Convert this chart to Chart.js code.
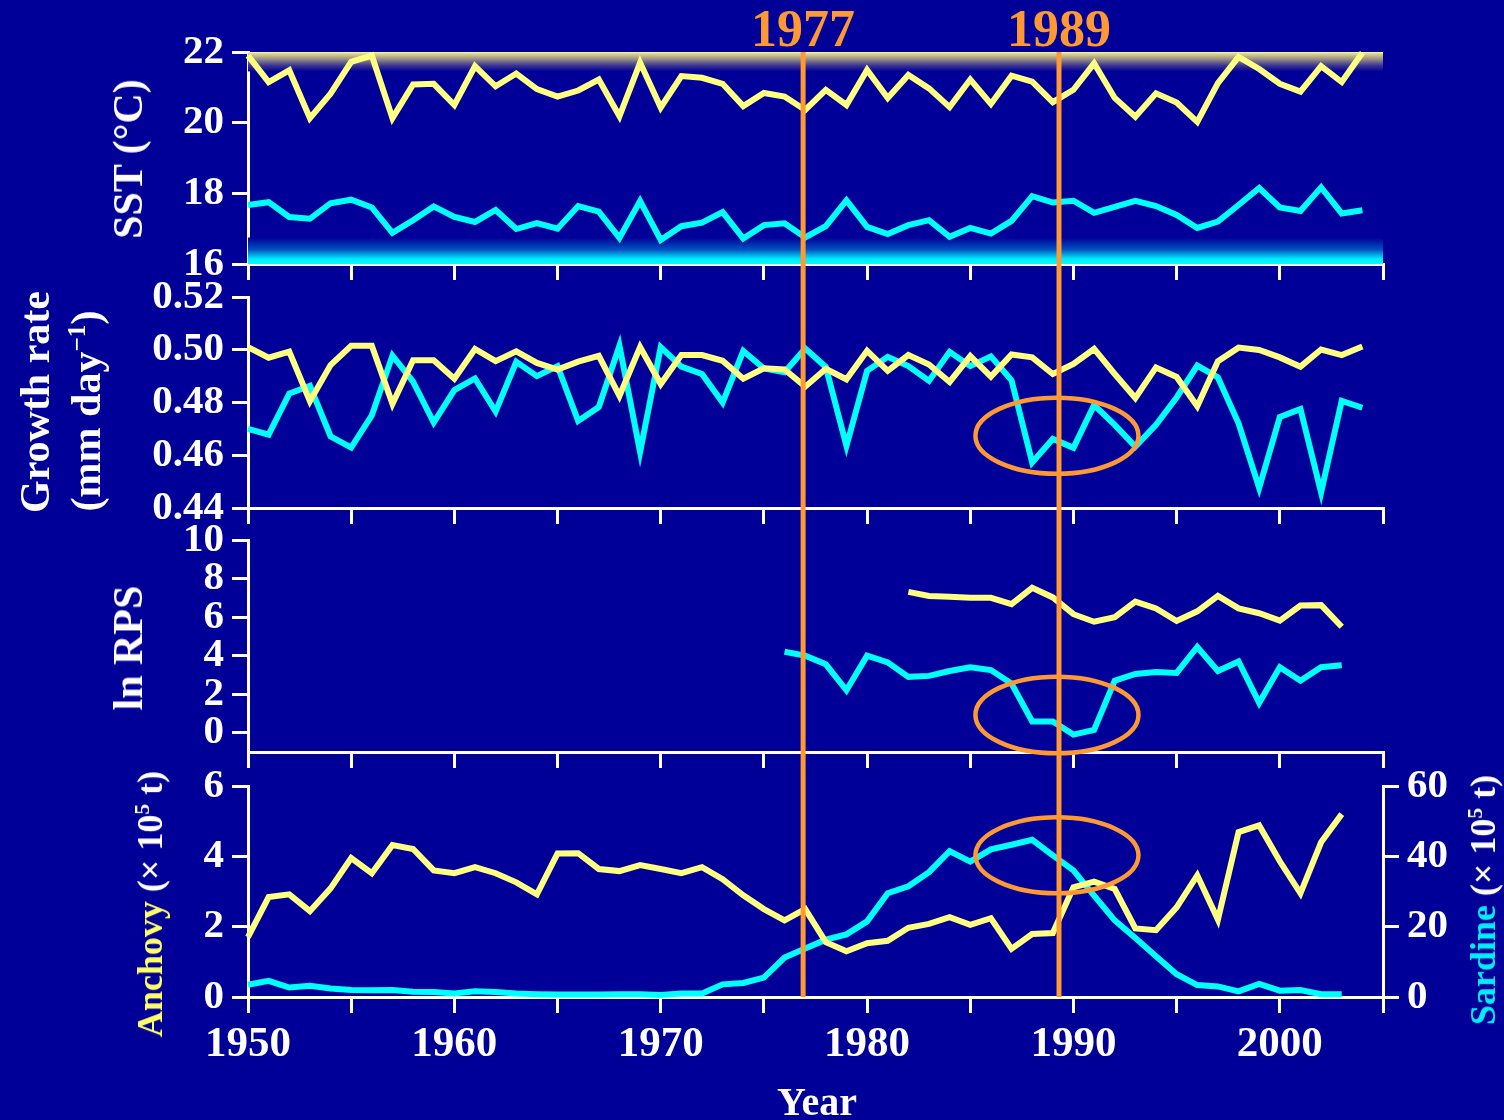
<!DOCTYPE html>
<html><head><meta charset="utf-8">
<script src="https://cdn.jsdelivr.net/npm/chart.js@4"></script>
<style>
html,body{margin:0;padding:0;background:#000099;width:1504px;height:1120px;overflow:hidden;}
#wrap{position:relative;width:1504px;height:1120px;}
canvas{position:absolute;left:0;top:0;}
.t{position:absolute;font-family:"Liberation Serif","Times New Roman",serif;font-weight:bold;color:#fff;white-space:nowrap;line-height:1;}
.rot{transform:translate(-50%,-50%) rotate(-90deg);}
.ctr{transform:translate(-50%,-50%);}
sup{font-size:60%;vertical-align:0.6em;line-height:0;}
</style></head>
<body><div id="wrap">
<canvas id="c1" width="1504" height="1120"></canvas>
<canvas id="c2" width="1504" height="1120"></canvas>
<canvas id="c3" width="1504" height="1120"></canvas>
<canvas id="c4" width="1504" height="1120"></canvas>
<div class="t rot" style="left:128px;top:159px;font-size:42px">SST (°C)</div>
<div class="t rot" style="left:35px;top:402px;font-size:42px">Growth rate</div>
<div class="t rot" style="left:86px;top:411px;font-size:42px">(mm day<sup>−1</sup>)</div>
<div class="t rot" style="left:128px;top:648px;font-size:42px">ln RPS</div>
<div class="t rot" style="left:150px;top:904px;font-size:36px"><span style="color:#ffff66">Anchovy</span> (× 10<sup>5</sup> t)</div>
<div class="t rot" style="left:1483px;top:900px;font-size:36px"><span style="color:#00eeff">Sardine</span> (× 10<sup>5</sup> t)</div>
<div class="t ctr" style="left:817px;top:1102px;font-size:40px">Year</div>
<div id="ev0" class="t ctr" style="top:29px;font-size:52px;color:#ff9933"></div>
<div id="ev1" class="t ctr" style="top:29px;font-size:52px;color:#ff9933"></div>
</div>
<script>
// ---------------- DATA ----------------
const years = [1950,1951,1952,1953,1954,1955,1956,1957,1958,1959,
  1960,1961,1962,1963,1964,1965,1966,1967,1968,1969,
  1970,1971,1972,1973,1974,1975,1976,1977,1978,1979,
  1980,1981,1982,1983,1984,1985,1986,1987,1988,1989,
  1990,1991,1992,1993,1994,1995,1996,1997,1998,1999,
  2000,2001,2002,2003,2004];

const sstAnchovy = [21.9,21.15,21.48,20.13,20.82,21.72,21.9,20.13,21.08,21.1,
  20.5,21.6,21.03,21.39,20.95,20.74,20.91,21.22,20.18,21.7,
  20.43,21.32,21.27,21.1,20.47,20.84,20.74,20.36,20.93,20.5,
  21.49,20.7,21.35,20.97,20.44,21.22,20.53,21.33,21.16,20.58,
  20.93,21.68,20.7,20.17,20.83,20.57,20.02,21.12,21.86,21.52,
  21.1,20.88,21.6,21.15,21.98];
const sstSardine = [17.67,17.75,17.33,17.28,17.72,17.82,17.6,16.88,17.24,17.63,
  17.33,17.19,17.53,16.99,17.16,17.0,17.64,17.48,16.74,17.78,
  16.68,17.07,17.17,17.47,16.72,17.1,17.15,16.75,17.07,17.8,
  17.05,16.85,17.1,17.24,16.77,17.02,16.86,17.22,17.92,17.74,
  17.79,17.45,17.62,17.79,17.64,17.39,17.02,17.2,17.67,18.15,
  17.6,17.5,18.17,17.43,17.52];

const growthAnchovy = [0.501,0.497,0.4993,0.4805,0.4942,0.5015,0.5015,0.4795,0.496,0.496,
  0.489,0.5003,0.4957,0.4994,0.495,0.4925,0.4955,0.4977,0.4825,0.501,
  0.487,0.498,0.498,0.4958,0.489,0.493,0.4925,0.486,0.4928,0.4888,
  0.4996,0.492,0.498,0.4944,0.4878,0.4976,0.4898,0.4982,0.4971,0.4908,
  0.4946,0.5003,0.4908,0.4817,0.4933,0.4897,0.4786,0.4956,0.5008,0.4999,
  0.4971,0.4936,0.5001,0.498,0.5012];
const growthSardine = [0.47,0.4678,0.4834,0.4863,0.4672,0.4629,0.4751,0.4978,0.4879,0.4724,
  0.4847,0.4891,0.4766,0.4954,0.49,0.4938,0.473,0.4783,0.5015,0.4612,
  0.501,0.4936,0.4908,0.48,0.4995,0.4929,0.4915,0.5005,0.4935,0.4635,
  0.492,0.4973,0.4938,0.4882,0.4992,0.4938,0.4975,0.4884,0.4573,0.4662,
  0.4628,0.479,0.4715,0.4633,0.4715,0.4819,0.494,0.4895,0.4721,0.4476,
  0.4745,0.4775,0.4459,0.4806,0.478];

const rpsAnchovyYears = [1982,1983,1984,1985,1986,1987,1988,1989,1990,1991,1992,
  1993,1994,1995,1996,1997,1998,1999,2000,2001,2002,2003];
const rpsAnchovy = [7.31,7.1,7.05,7.0,7.0,6.67,7.52,7.02,6.15,5.76,6.0,
  6.8,6.45,5.8,6.3,7.1,6.45,6.2,5.82,6.6,6.62,5.5];
const rpsSardineYears = [1976,1977,1978,1979,1980,1981,1982,1983,1984,1985,1986,1987,1988,1989,
  1990,1991,1992,1993,1994,1995,1996,1997,1998,1999,2000,2001,2002,2003];
const rpsSardine = [4.2,4.0,3.55,2.2,4.0,3.65,2.9,2.95,3.2,3.4,3.25,2.55,0.58,0.58,
  -0.1,0.15,2.7,3.05,3.15,3.1,4.45,3.2,3.7,1.55,3.4,2.7,3.4,3.5];

const catchYears = [1950,1951,1952,1953,1954,1955,1956,1957,1958,1959,
  1960,1961,1962,1963,1964,1965,1966,1967,1968,1969,
  1970,1971,1972,1973,1974,1975,1976,1977,1978,1979,
  1980,1981,1982,1983,1984,1985,1986,1987,1988,1989,
  1990,1991,1992,1993,1994,1995,1996,1997,1998,1999,
  2000,2001,2002,2003];
const catchAnchovy = [1.7,2.84,2.92,2.44,3.09,3.95,3.52,4.32,4.21,3.6,
  3.52,3.69,3.52,3.26,2.92,4.08,4.09,3.64,3.58,3.75,
  3.64,3.52,3.69,3.35,2.89,2.5,2.18,2.5,1.56,1.3,
  1.53,1.6,1.97,2.08,2.27,2.05,2.24,1.37,1.79,1.82,
  3.12,3.28,3.07,1.95,1.9,2.55,3.46,2.2,4.69,4.88,
  3.86,2.95,4.4,5.2];
const catchSardine = [3.5,4.6,2.7,3.2,2.4,2.0,1.9,2.0,1.5,1.4,
  1.0,1.6,1.4,1.0,0.8,0.7,0.7,0.7,0.8,0.8,
  0.6,1.0,1.0,3.6,4.0,5.5,11.2,13.8,16.3,17.8,
  21.5,29.5,31.5,35.5,41.5,38.5,42.0,43.3,44.7,40.3,
  36.0,28.8,21.8,16.8,11.6,6.5,3.4,3.0,1.6,3.7,
  1.8,2.0,0.8,0.8];

const xTickValues = [1950,1955,1960,1965,1970,1975,1980,1985,1990,1995,2000,2005];
const xTickLabels = [1950,1960,1970,1980,1990,2000];
const sstTicks = [16,18,20,22];
const growthTicks = [0.44,0.46,0.48,0.50,0.52];
const rpsTicks = [0,2,4,6,8,10];
const anchovyTicks = [0,2,4,6];
const sardineTicks = [0,20,40,60];
const eventYears = [1977,1989];
const eventLineAt = [1976.9,1989.3];

// ---------------- STYLE / LAYOUT ----------------
const FONT = '"Liberation Serif", "Times New Roman", serif';
const YEL = '#ffff80', CYAN = '#00ffff', ORANGE = '#ff9933', BG = '#000099';
const W = 1504, H = 1120, LEFT = 248, RIGHT = 1383, YW = 130, RW = 100, XH = 70;
const panels = [[52,264],[297,508],[540,752],[786,997]];

Chart.defaults.animation = false;
Chart.defaults.font.family = FONT;

function pts(xs, ys){ return xs.map((x,i)=>({x:x, y:ys[i]})); }
function ds(xs, ys, color, axis){
  return {data: pts(xs, ys), borderColor: color, backgroundColor: color, borderWidth: 6,
    pointRadius: 0, clip: false, tension: 0, borderJoinStyle: 'miter', spanGaps: false,
    yAxisID: axis || 'y', fill: false};
}
function xAxis(showLabels){
  return {type:'linear', position:'bottom', min:1950, max:2005,
    afterBuildTicks: s => { s.ticks = xTickValues.map(v=>({value:v})); },
    afterFit: s => { s.height = XH; },
    grid:{drawOnChartArea:false, drawTicks:true, tickLength:16, color:'#fff', lineWidth:3},
    border:{display:true, color:'#fff', width:3},
    ticks:{display:showLabels, color:'#fff', font:{family:FONT, size:43, weight:'bold'}, padding:6,
      maxRotation:0, autoSkip:false, callback: v => xTickLabels.includes(v) ? String(v) : ''}
  };
}
function yAxis(min, max, ticks, fmt, pos, width){
  return {type:'linear', position:pos||'left', min:min, max:max,
    afterBuildTicks: s => { s.ticks = ticks.map(v=>({value:v})); },
    afterFit: s => { s.width = width || YW; },
    grid:{drawOnChartArea:false, drawTicks:true, tickLength:16, color:'#fff', lineWidth:3},
    border:{display:true, color:'#fff', width:3},
    ticks:{color:'#fff', font:{family:FONT, size:41, weight:'bold'}, padding:8, autoSkip:false,
      callback: v => fmt(v)}
  };
}

const bgPlugin = {id:'bgArea', beforeDraw(chart){
  const {ctx, chartArea:a} = chart;
  ctx.save(); ctx.fillStyle = BG; ctx.fillRect(a.left, a.top, a.right-a.left, a.bottom-a.top); ctx.restore();
}};
const sstBands = {id:'sstBands', beforeDatasetsDraw(chart){
  const {ctx, chartArea:a, scales:{y}} = chart;
  ctx.save();
  const t0 = y.getPixelForValue(22), t1 = y.getPixelForValue(21.45);
  let g = ctx.createLinearGradient(0, t0, 0, t1);
  g.addColorStop(0, '#ffff90'); g.addColorStop(0.08, '#e0d890'); g.addColorStop(0.35, '#9c9488');
  g.addColorStop(0.7, '#3a3490'); g.addColorStop(1, BG);
  ctx.fillStyle = g; ctx.fillRect(a.left, t0, a.right-a.left, t1-t0);
  const b0 = y.getPixelForValue(16.75), b1 = y.getPixelForValue(16);
  g = ctx.createLinearGradient(0, b0, 0, b1);
  g.addColorStop(0, BG); g.addColorStop(0.45, '#0050c0'); g.addColorStop(0.8, '#00e8ff'); g.addColorStop(1, '#00ffff');
  ctx.fillStyle = g; ctx.fillRect(a.left, b0, a.right-a.left, b1-b0);
  ctx.restore();
}};
const ellipsePlugin = {id:'ellipses', afterDatasetsDraw(chart, args, opts){
  const {ctx, scales} = chart;
  (opts.items||[]).forEach(e => {
    const xs = scales.x, ys = scales[e.axis];
    const cx = xs.getPixelForValue(e.x), cy = ys.getPixelForValue(e.y);
    const rx = Math.abs(xs.getPixelForValue(e.x + e.rx) - cx);
    const ry = Math.abs(ys.getPixelForValue(e.y + e.ry) - cy);
    ctx.save(); ctx.beginPath(); ctx.ellipse(cx, cy, rx, ry, 0, 0, Math.PI*2);
    ctx.strokeStyle = ORANGE; ctx.lineWidth = 4.5; ctx.stroke(); ctx.restore();
  });
}};

const charts = [];
const eventPlugin = {id:'events', afterDraw(chart){
  const {ctx, chartArea:a, scales:{x}} = chart;
  const top = charts[0].chartArea.top;
  ctx.save(); ctx.strokeStyle = ORANGE; ctx.lineWidth = 5;
  eventYears.forEach((yr, i) => {
    const px = x.getPixelForValue(eventLineAt[i]);
    ctx.beginPath(); ctx.moveTo(px, top); ctx.lineTo(px, a.bottom); ctx.stroke();
    const el = document.getElementById('ev'+i);
    el.textContent = String(yr); el.style.left = px + 'px';
  });
  ctx.restore();
}};

function makeChart(id, idx, datasets, scales, plugins, ellipses, rightW){
  const [top, bottom] = panels[idx];
  const c = new Chart(document.getElementById(id), {
    type:'line',
    data:{datasets: datasets},
    options:{responsive:false, maintainAspectRatio:false, devicePixelRatio:1, animation:false,
      layout:{padding:{left: LEFT - YW, right: W - RIGHT - (rightW||0), top: top, bottom: H - bottom - XH}},
      plugins:{legend:{display:false}, tooltip:{enabled:false}, ellipses:{items: ellipses||[]}},
      scales: scales},
    plugins: plugins
  });
  charts.push(c);
  return c;
}

makeChart('c1', 0,
  [ds(years, sstAnchovy, YEL), ds(years, sstSardine, CYAN)],
  {x: xAxis(false), y: yAxis(16, 22, sstTicks, v => String(v))},
  [bgPlugin, sstBands]);

makeChart('c2', 1,
  [ds(years, growthAnchovy, YEL), ds(years, growthSardine, CYAN)],
  {x: xAxis(false), y: yAxis(0.44, 0.52, growthTicks, v => Number(v).toFixed(2))},
  [bgPlugin, ellipsePlugin],
  [{x:1989.2, y:0.4674, rx:3.95, ry:0.0144, axis:'y'}]);

makeChart('c3', 2,
  [ds(rpsAnchovyYears, rpsAnchovy, YEL), ds(rpsSardineYears, rpsSardine, CYAN)],
  {x: xAxis(false), y: yAxis(-1, 10, rpsTicks, v => String(v))},
  [bgPlugin, ellipsePlugin],
  [{x:1989.2, y:0.92, rx:3.95, ry:1.99, axis:'y'}]);

makeChart('c4', 3,
  [ds(catchYears, catchAnchovy, YEL, 'yA'), ds(catchYears, catchSardine, CYAN, 'yS')],
  {x: xAxis(true),
   yA: yAxis(0, 6, anchovyTicks, v => String(v), 'left'),
   yS: yAxis(0, 60, sardineTicks, v => String(v), 'right', RW)},
  [bgPlugin, ellipsePlugin, eventPlugin],
  [{x:1989.2, y:4.03, rx:3.95, ry:1.08, axis:'yA'}], RW);
</script>
</body></html>
